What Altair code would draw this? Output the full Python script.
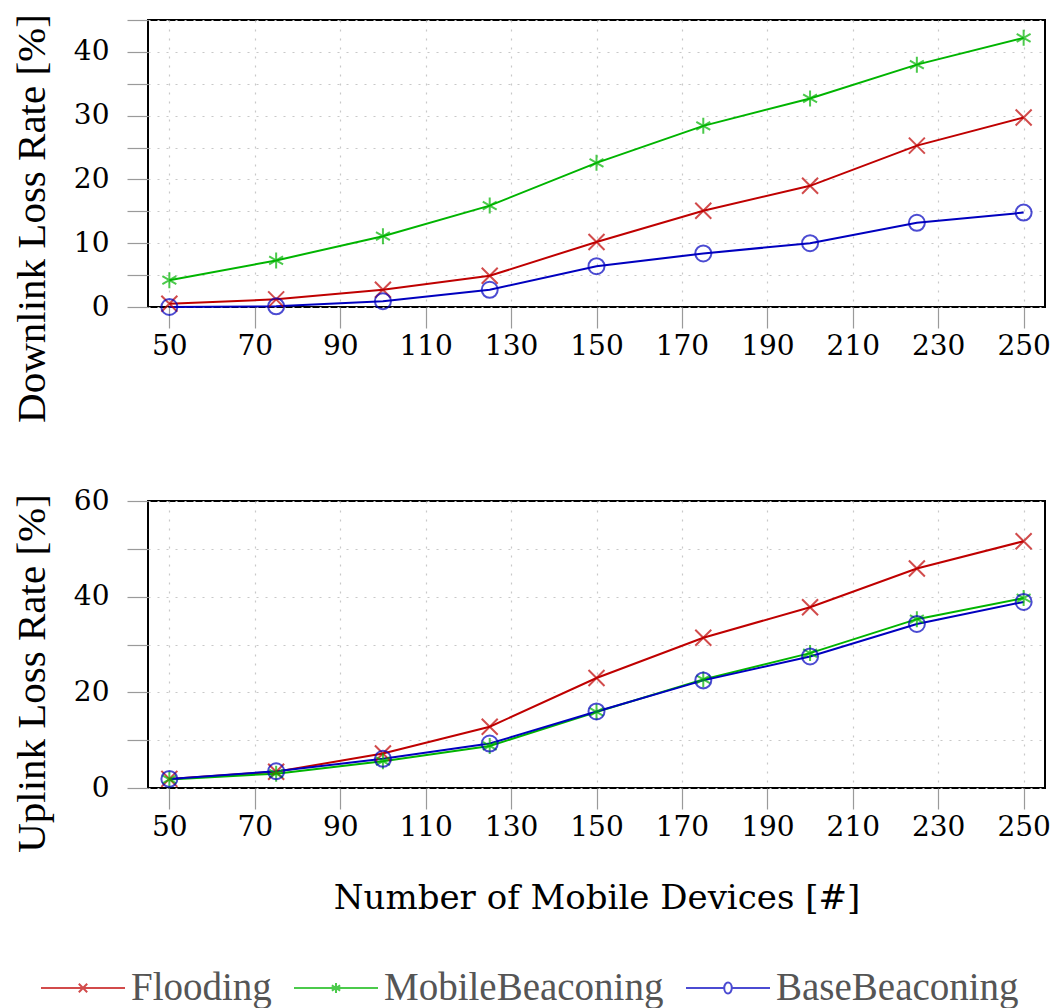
import altair as alt
import pandas as pd

devices = [50, 75, 100, 125, 150, 175, 200, 225, 250]
series_names = ["Flooding", "MobileBeaconing", "BaseBeaconing"]

down_flooding = [0.5, 1.2, 2.7, 4.9, 10.2, 15.1, 19.0, 25.3, 29.7]
down_mobile = [4.2, 7.3, 11.1, 15.9, 22.6, 28.4, 32.7, 38.0, 42.2]
down_base = [0.0, 0.1, 0.9, 2.7, 6.4, 8.4, 10.0, 13.2, 14.8]

up_flooding = [1.9, 3.4, 7.2, 12.8, 23.0, 31.4, 37.8, 45.9, 51.6]
up_mobile = [1.8, 3.0, 5.6, 8.8, 15.9, 22.7, 28.2, 35.3, 39.7]
up_base = [1.9, 3.5, 6.1, 9.3, 16.0, 22.5, 27.5, 34.3, 38.9]

x_ticks = [50, 70, 90, 110, 130, 150, 170, 190, 210, 230, 250]
down_ticks = [0, 5, 10, 15, 20, 25, 30, 35, 40, 45]
up_ticks = [0, 10, 20, 30, 40, 50, 60]

colors = ["#bf0000", "#00b400", "#0000bf"]
CROSS = "M-1,-1L1,1M-1,1L1,-1"
AST = "M0,-1L0,1M-0.87,-0.5L0.87,0.5M-0.87,0.5L0.87,-0.5"
CIRC = "M1,0A1,1,0,1,1,-1,0A1,1,0,1,1,1,0Z"
marker_paths = [CROSS, AST, CIRC]
legend_paths = [
    "M-1,0L1,0M-0.1,-0.1L0.1,0.1M-0.1,0.1L0.1,-0.1",
    "M-1,0L1,0M0,-0.12L0,0.12M-0.1,-0.06L0.1,0.06M-0.1,0.06L0.1,-0.06",
    "M-1,0L-0.09,0M0.09,0L1,0M0.09,0A0.09,0.13,0,1,1,-0.09,0A0.09,0.13,0,1,1,0.09,0Z",
]

def make_df(vals):
    rows = []
    for name, v in zip(series_names, vals):
        for d, y in zip(devices, v):
            rows.append({"devices": d, "loss": y, "series": name})
    return pd.DataFrame(rows)

FONT = "DejaVu Serif"
TFONT = "Liberation Serif"
color_scale = alt.Scale(domain=series_names, range=colors)

legend_kw = dict(
    title=None, orient="none", direction="horizontal",
    legendX=-108, legendY=925,
    symbolSize=7056, symbolStrokeWidth=2,
    labelFont=TFONT, labelFontSize=39, labelColor="#555555",
    labelOffset=5, columnPadding=18, symbolOffset=0,
    labelLimit=400,
)


def panel(df, ymax, yticks, ytitle, title_y, show_xtitle, with_legend):
    x = alt.X(
        "devices:Q",
        scale=alt.Scale(domain=[45, 255], nice=False, zero=False),
        axis=alt.Axis(
            values=x_ticks,
            title="Number of Mobile Devices [#]" if show_xtitle else None,
        ),
    )
    y = alt.Y(
        "loss:Q",
        scale=alt.Scale(domain=[0, ymax], nice=False),
        axis=alt.Axis(
            values=yticks,
            labelExpr="datum.value % " + ("10" if ymax == 45 else "20") + " == 0 ? datum.label : ''",
            title=ytitle,
            titleY=title_y,
        ),
    )
    base = alt.Chart(df)
    color = alt.Color("series:N", scale=color_scale, legend=alt.Legend(**legend_kw))
    lines = base.mark_line(strokeWidth=2).encode(x=x, y=y, color=color)
    layers = [lines]
    for name, col, path in zip(series_names, colors, marker_paths):
        layers.append(
            base.transform_filter(alt.datum.series == name)
            .mark_point(filled=False, strokeWidth=2, size=256, color=col, shape=path)
            .encode(x=x, y=y)
        )
    if with_legend:
        layers.append(
            base.transform_filter("false")
            .mark_point(filled=False, strokeWidth=2, size=7056)
            .encode(
                x=x, y=y,
                color=color,
                shape=alt.Shape(
                    "series:N",
                    scale=alt.Scale(domain=series_names, range=legend_paths),
                    legend=alt.Legend(**legend_kw),
                ),
            )
        )
    return alt.layer(*layers).properties(width=897, height=287)


top = panel(make_df([down_flooding, down_mobile, down_base]), 45, down_ticks,
            "Downlink Loss Rate [%]", 198, False, False)
bottom = panel(make_df([up_flooding, up_mobile, up_base]), 60, up_ticks,
               "Uplink Loss Rate [%]", 172, True, True)

chart = alt.vconcat(top, bottom, spacing=62).resolve_scale(
    color="shared", shape="shared"
).resolve_legend(
    color="shared", shape="shared"
).configure(
    font=FONT,
    padding={"left": 10, "top": 12, "right": 5, "bottom": 5},
).configure_view(
    stroke="black", strokeWidth=2,
).configure_axis(
    domain=False,
    grid=True, gridColor="#c8c8c8", gridDash=[2, 7], gridWidth=1.2,
    ticks=True, tickSize=21, tickColor="#9a9a9a", tickWidth=1.2,
    labelFont=FONT, labelFontSize=28, labelColor="black",
    titleFont=FONT, titleFontSize=34, titleFontWeight="normal", titleColor="black",
).configure_axisY(
    titlePadding=20, titleFont=TFONT, titleFontSize=41, labelPadding=18,
).configure_axisX(
    titlePadding=40, labelPadding=4,
)

chart.save("out.html", embed_options={"renderer": "svg", "actions": False})
